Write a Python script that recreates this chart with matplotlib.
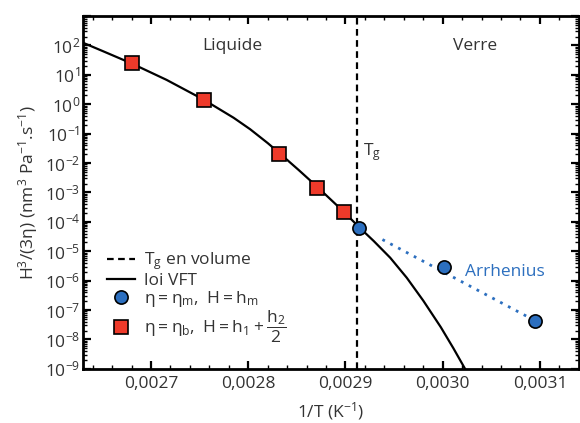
import numpy as np
import matplotlib
matplotlib.use("Agg")
import matplotlib.pyplot as plt
from matplotlib.ticker import FixedLocator, FuncFormatter, LogLocator, NullFormatter
from matplotlib.lines import Line2D

plt.rcParams['font.family'] = ['Open Sans', 'DejaVu Sans']
plt.rcParams['mathtext.fontset'] = 'custom'
plt.rcParams['mathtext.rm'] = 'Open Sans'
plt.rcParams['mathtext.it'] = 'Open Sans'
plt.rcParams['mathtext.default'] = 'rm'

txt = '#333333'
blue = '#2c6fbf'
red = '#ee3a2a'
fs = 12.5

# data
sq_x = [0.002680, 0.002754, 0.002832, 0.002871, 0.002898]
sq_y = [24.5, 1.45, 0.0200, 1.38e-3, 2.1e-4]

circ_x = [0.002914, 0.003001, 0.003095]
circ_y = [6.3e-5, 3.0e-6, 4.1e-8]

# loi VFT, log10 values
vft_x = [0.002631, 0.002651, 0.002680, 0.002716, 0.002754, 0.002785, 0.002802,
         0.002820, 0.002831, 0.002852, 0.002871, 0.002898, 0.002914, 0.002929,
         0.002946, 0.002963, 0.002980, 0.002998, 0.003011, 0.003023, 0.003030]
vft_log = [2.08, 1.80, 1.39, 0.83, 0.16, -0.46, -0.85,
           -1.32, -1.63, -2.24, -2.81, -3.65, -4.18, -4.65,
           -5.22, -5.90, -6.68, -7.58, -8.30, -9.00, -9.40]
vft_y = [10 ** v for v in vft_log]

arr_x = [0.002938, 0.003087]
arr_y = [2.5e-5, 6.0e-8]

tg_x = 0.0029115

fig = plt.figure(figsize=(5.8, 4.23), dpi=100)
ax = fig.add_axes([0.143, 0.128, 0.855, 0.834])

ax.axvline(tg_x, color='black', ls=(0, (3, 2)), lw=1.6, zorder=2)
ax.plot(vft_x, vft_y, color='black', lw=1.6, zorder=3, solid_joinstyle='round')
ax.plot(arr_x, arr_y, color=blue, ls=(0, (1, 2.2)), lw=2, zorder=3)
ax.plot(sq_x, sq_y, 's', ms=9.5, mfc=red, mec='black', mew=1.2, zorder=5)
ax.plot(circ_x, circ_y, 'o', ms=9.5, mfc=blue, mec='black', mew=1.2, zorder=5)

ax.set_yscale('log')
ax.set_xlim(0.00263, 0.00314)
ax.set_ylim(1e-9, 1e3)

ax.xaxis.set_major_locator(FixedLocator([0.0027, 0.0028, 0.0029, 0.0030, 0.0031]))
ax.xaxis.set_minor_locator(FixedLocator(np.arange(0.00264, 0.00314, 0.00002)))
ax.xaxis.set_major_formatter(FuncFormatter(lambda v, p: ('%.4f' % v).replace('.', ',')))
ax.yaxis.set_major_locator(FixedLocator([10.0 ** k for k in range(-9, 4)]))
ax.yaxis.set_minor_locator(LogLocator(base=10, subs=np.arange(2, 10), numticks=30))
ax.yaxis.set_minor_formatter(NullFormatter())


def ylab(v, p):
    k = int(round(np.log10(v)))
    if k > 2:
        return ''
    return r'10$^{%d}$' % k


ax.yaxis.set_major_formatter(FuncFormatter(ylab))

ax.tick_params(which='both', direction='in', top=True, right=True, colors='black',
               labelcolor=txt, labelsize=fs)
ax.tick_params(which='major', length=6, width=1.6)
ax.tick_params(which='minor', length=3, width=1)
ax.tick_params(axis='y', pad=2)
ax.tick_params(axis='x', pad=5)
for s in ax.spines.values():
    s.set_linewidth(2)

ax.set_xlabel('1/T (K$^{-1}$)', color=txt, fontsize=fs, labelpad=6)
ax.set_ylabel('H$^3$/(3η) (nm$^3$ Pa$^{-1}$.s$^{-1}$)', color=txt, fontsize=fs, labelpad=3)

ax.text(0.002784, 10 ** 1.97, 'Liquide', color=txt, fontsize=fs, ha='center', va='center')
ax.text(0.003033, 10 ** 1.97, 'Verre', color=txt, fontsize=fs, ha='center', va='center')
ax.text(0.002918, 10 ** -1.64, 'T$_\\mathrm{g}$', color=txt, fontsize=fs, ha='left', va='center')
ax.text(0.003023, 10 ** -5.72, 'Arrhenius', color=blue, fontsize=fs, ha='left', va='center')

handles = [
    Line2D([], [], color='black', ls=(0, (3, 2)), lw=1.6),
    Line2D([], [], color='black', lw=1.6),
    Line2D([], [], ls='', marker='o', ms=9.5, mfc=blue, mec='black', mew=1.2),
    Line2D([], [], ls='', marker='s', ms=9.5, mfc=red, mec='black', mew=1.2),
]
labels = [
    'T$_\\mathrm{g}$ en volume',
    'loi VFT',
    r'$\eta = \eta_m,\ H = h_m$',
    r'$\eta = \eta_b,\ H = h_1 + \dfrac{h_2}{2}$',
]
leg = ax.legend(handles, labels, loc='upper left', bbox_to_anchor=(0.035, 0.355),
                frameon=False, fontsize=fs, handlelength=1.6, handletextpad=0.5,
                labelspacing=0.0, borderaxespad=0)
for t in leg.get_texts():
    t.set_color(txt)

fig.savefig('out.png', dpi=100)
